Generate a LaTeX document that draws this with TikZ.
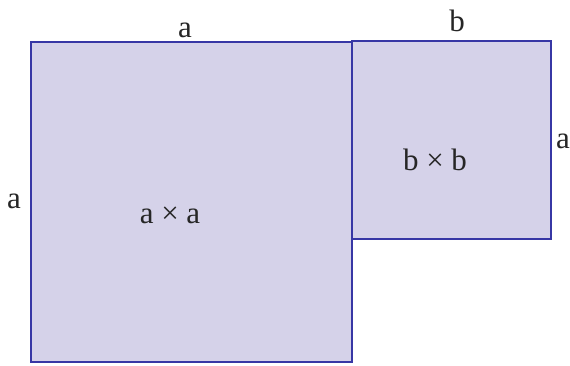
\documentclass[tikz,border=0pt]{standalone}
\usepackage{fontspec}
\setmainfont{Liberation Serif}
\definecolor{sqfill}{RGB}{213,210,233}
\definecolor{sqline}{RGB}{55,55,165}
\begin{document}
\begin{tikzpicture}[x=1pt,y=-1pt,
  sq/.style={draw=sqline,fill=sqfill,line width=1.2pt},
  lbl/.style={anchor=base,inner sep=0pt,font=\fontsize{31}{36}\selectfont,text=black!85}]
\useasboundingbox (0,0) rectangle (570,366);
\draw[sq] (31,42) rectangle (352,362);
\draw[sq] (352,41) rectangle (551,239);
\node[lbl] (ta) at (185,38) {a};
\node[lbl] (tb) at (457,32) {b};
\node[lbl] (la) at (14,208) {a};
\node[lbl] (ra) at (563,149) {a};
\node[lbl] (aa) at (170,223) {a × a};
\node[lbl] (bb) at (435,171) {b × b};
\end{tikzpicture}
\end{document}
